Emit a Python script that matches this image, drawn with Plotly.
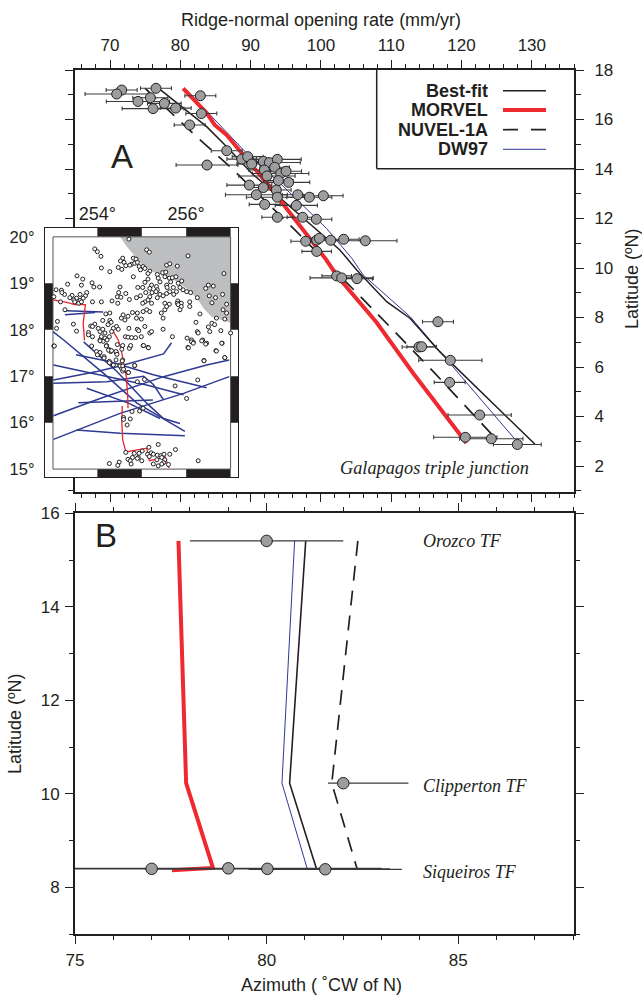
import plotly.graph_objects as go

W, H = 642, 998
INK = "#231f20"
GREY = "#9b9d9f"
RED = "#ee2a30"
BLUE = "#2e3a92"

# ---------- Panel A: observed opening rates ----------
a_rate = [71.66,70.95,76.54,73.98,75.74,77.73,76.12,79.34,82.85,82.99,81.33,86.6,83.8,88.73,89.58,91.81,92.66,93.8,90.15,91.95,93.42,94.28,95.04,92.33,93.95,95.41,89.82,91.81,93.66,90.82,93.8,96.7,98.35,100.35,92.0,96.5,93.8,97.4,99.35,97.83,99.4,99.78,101.39,103.24,106.32,99.4,102.24,102.95,105.13,116.65,113.95,114.33,118.41,118.31,122.58,120.54,124.24,127.94]
a_lat = [17.19,17.03,17.26,16.73,16.88,16.65,16.44,16.46,16.96,16.24,15.78,14.74,14.16,14.4,14.5,14.31,14.26,14.39,14.2,13.96,14.07,13.82,13.91,13.72,13.53,13.46,13.35,13.25,13.15,12.96,12.86,12.96,12.86,12.92,12.57,12.53,12.05,12.05,11.97,11.08,11.13,11.2,11.12,11.16,11.1,10.67,9.68,9.6,9.57,7.83,6.81,6.82,6.27,5.38,4.06,3.16,3.1,2.87]
a_err = [2.2,4.5,2.2,4.5,2.5,2.4,4.4,2.2,2.2,2.2,2.2,2.2,4.4,2.1,2.2,2.2,4.4,3.4,2.1,2.2,2.1,4.0,2.2,4.0,2.1,3.0,3.2,2.1,2.1,4.4,4.4,2.2,3.2,2.8,2.2,3.0,2.2,2.2,2.2,2.1,2.1,2.1,2.2,2.2,4.5,2.1,2.1,4.5,2.2,2.2,2.4,2.1,4.5,2.2,4.5,4.5,4.5,3.4]

# ---------- Panel A: model curves ----------
a_best_rate = [77.1,79.5,83.75,86.6,90.15,102.7,105.09,109.35,112.67,116.9,130.45]
a_best_lat = [17.22,16.68,15.71,14.9,13.83,10.73,9.92,8.64,7.97,6.62,2.88]
a_morvel_rate = [80.4,83.75,84.9,86.6,92.3,96.0,100.8,102.2,107.9,113.1,120.7]
a_morvel_lat = [17.26,16.26,15.78,15.37,13.43,12.07,10.32,9.72,7.81,5.76,2.93]
a_nuvel_rate = [75.0,79.0,82.55,87.3,96.3,108.2,116.0,125.05]
a_nuvel_lat = [17.26,16.18,15.24,14.03,11.54,8.1,5.81,3.05]
a_dw_rate = [80.8,85.65,89.45,94.2,100.8,104.4,106.0,112.7,127.6]
a_dw_lat = [17.22,15.78,14.63,13.42,11.6,10.39,9.72,8.03,3.08]

# ---------- Panel B ----------
b_az = [80.0,82.0,77.0,79.0,80.02,81.53]
b_lat = [15.41,10.23,8.4,8.41,8.4,8.39]
b_err_minus = [2.0,0.4,2.0,4.0,3.2,2.0]
b_err_plus = [2.0,1.7,2.0,4.0,3.2,2.0]
b_best_az = [81.02,80.6,81.3]
b_dw_az = [80.73,80.4,81.06]
b_nuvel_az = [82.38,81.7,82.36]
b_model_lat = [15.41,10.23,8.4]
b_morvel_az = [77.7,77.9,78.6,77.53]
b_morvel_lat = [15.41,10.23,8.42,8.37]

# ---------- Inset map ----------
land_lon = [254.51,254.66,254.85,255.0,255.19,255.41,255.6,255.79,256.01,256.24,256.39,256.57,256.8,257.0,257.0]
land_lat = [20.0,19.79,19.58,19.4,19.27,19.18,19.11,19.04,18.89,18.68,18.46,18.28,18.21,18.15,20.0]

quake_lon = [254.71,253.94,254.0,254.08,255.11,255.17,256.04,254.57,254.52,254.6,254.81,254.87,254.77,254.84,254.64,254.73,254.9,254.94,255.03,254.97,255.07,255.18,255.14,254.47,254.55,254.09,254.28,255.56,255.63,255.8,254.81,253.54,253.67,253.33,253.64,253.88,253.92,254.05,254.51,254.91,255.02,255.07,255.14,255.35,255.37,255.47,255.54,255.52,255.62,255.69,255.77,255.9,255.65,255.82,255.41,255.22,255.33,255.56,255.57,255.71,255.18,255.35,255.86,255.93,256.01,256.1,256.25,256.44,256.5,256.61,256.85,256.82,256.52,256.66,256.58,256.91,253.07,253.19,253.26,253.2,253.43,253.38,253.61,253.76,253.73,253.53,253.47,253.61,253.68,253.49,253.58,253.64,253.02,253.17,253.89,254.09,254.33,254.45,254.53,254.48,254.64,254.72,254.46,254.88,254.97,255.09,255.18,255.23,255.32,255.41,255.35,255.48,255.56,255.63,255.72,255.78,255.14,255.07,255.02,255.22,255.52,255.62,255.81,255.89,256.08,255.8,
253.27,253.1,253.08,253.46,253.53,253.85,253.94,253.89,253.8,253.8,254.02,254.12,254.28,254.31,254.24,254.19,254.28,254.58,254.54,254.62,254.69,254.79,254.9,254.88,254.99,255.07,254.71,254.9,254.93,254.43,254.47,254.36,254.32,254.06,254.12,254.17,254.09,254.17,254.06,254.13,254.22,254.27,253.89,253.98,254.04,254.15,254.21,254.27,254.3,254.43,254.57,254.73,254.63,254.69,254.77,254.86,254.99,255.18,255.22,255.48,255.69,255.03,255.14,256.04,256.02,256.12,256.16,256.25,256.27,256.37,256.46,256.53,256.58,256.64,256.5,256.78,256.81,256.67,256.87,256.4,256.22,255.48,255.44,255.52,255.56,255.11,255.03,255.18,255.82,255.89,255.86,256.08,256.31,256.83,256.91,256.68,256.87,257.0,253.02,254.57,254.51,254.54,254.57,254.69,254.84,254.27,254.36,
253.03,253.87,254.06,254.2,254.25,254.32,254.06,254.0,254.15,254.27,254.42,254.44,254.42,254.56,254.55,254.45,254.72,254.75,255.04,255.15,254.51,254.57,254.84,254.7,254.59,254.9,255.06,255.75,256.26,256.01,256.05,256.12,256.16,256.35,256.44,256.8,256.68,256.87,256.4,254.78,254.95,255.03,254.74,254.59,254.59,254.67,255.37,255.76,255.16,254.64,254.83,254.94,255.01,255.21,255.13,255.26,255.35,255.43,255.5,255.63,254.92,254.79,254.69,254.74,254.9,255.0,254.76,255.17,255.34,255.45,255.52,255.49,255.26,255.37,255.45,255.6,254.27,254.49,254.46,256.27]
quake_lat = [19.95,19.74,19.68,19.58,19.72,19.67,19.59,19.54,19.48,19.45,19.54,19.52,19.41,19.43,19.38,19.39,19.45,19.36,19.36,19.29,19.32,19.26,19.21,19.34,19.3,19.33,19.25,19.39,19.42,19.37,19.14,19.16,19.09,18.98,18.96,19.01,18.92,18.92,18.92,18.91,18.91,19.02,19.09,19.19,19.11,19.23,19.24,19.14,19.11,19.12,19.14,19.05,19.03,19.0,19.03,18.96,18.93,18.96,18.91,18.91,18.89,18.86,18.91,18.86,18.82,18.8,18.69,18.89,18.96,18.94,19.21,18.76,18.73,18.69,18.58,18.55,18.86,18.85,18.76,18.8,18.74,18.69,18.76,18.8,18.73,18.68,18.64,18.63,18.68,18.6,18.57,18.6,18.71,18.6,18.6,18.6,18.62,18.71,18.7,18.8,18.78,18.65,18.57,18.69,18.73,18.8,18.71,18.8,18.82,18.76,18.69,18.73,18.78,18.82,18.76,18.82,18.64,18.6,18.57,18.57,18.57,18.55,18.62,18.57,18.6,18.57,
18.43,18.18,18.03,18.12,17.97,18.08,18.12,18.07,17.94,17.89,18.03,18.2,18.2,18.16,18.11,18.34,18.36,18.32,18.25,18.21,18.29,18.37,18.36,18.25,18.23,18.07,18.03,18.01,17.98,18.07,18.01,18.03,17.96,17.96,18.01,17.93,17.85,17.82,17.78,17.75,17.78,17.85,17.85,17.53,17.48,17.42,17.66,17.57,17.53,17.5,17.66,17.62,17.85,17.84,17.83,17.83,17.85,17.93,17.96,18.01,17.85,17.66,17.62,17.62,17.82,17.78,17.73,17.96,17.93,17.78,17.71,17.96,18.14,18.11,18.06,17.98,17.71,17.55,17.4,17.34,18.16,18.25,18.36,18.43,18.5,18.43,18.39,18.39,18.54,18.5,18.43,18.5,18.34,18.43,18.36,18.25,18.23,17.93,17.65,17.35,17.24,17.17,17.11,17.08,17.23,17.32,17.24,
17.65,17.65,17.76,17.65,17.56,17.55,17.51,17.46,17.39,17.29,17.53,17.47,17.35,17.33,17.58,17.68,17.6,17.66,17.66,17.61,17.22,17.22,17.23,17.08,17.15,16.88,16.93,16.79,16.92,16.52,17.61,17.74,17.71,17.76,17.69,17.71,17.54,17.4,17.33,16.24,16.25,16.31,16.08,16.11,16.07,15.95,15.53,15.42,15.47,15.36,15.34,15.34,15.39,15.35,15.32,15.32,15.3,15.29,15.32,15.32,15.25,15.25,15.21,15.18,15.23,15.18,15.11,15.27,15.2,15.25,15.2,15.14,15.11,15.07,15.11,15.1,15.12,15.15,15.08,15.18]

ridge_lons = [
    [253.01,253.31,253.49,253.73,253.68,253.71],
    [254.36,254.47,254.53,254.57,254.6,254.65,254.68,254.69],
    [254.56,254.55,254.57,254.64,255.11,255.17,255.41,255.52,255.61],
]
ridge_lats = [
    [18.64,18.59,18.54,18.54,18.14,17.77],
    [17.96,17.78,17.6,17.4,17.28,16.99,16.63,16.31],
    [16.36,16.0,15.63,15.37,15.45,15.18,15.23,15.28,15.02],
]
fz_lons = [
    [253.29,254.13],[253.27,253.95],
    [253.0,253.24,254.14,254.89,255.97],
    [253.69,254.44,255.11,255.49,255.86],
    [253.52,254.29,255.26,256.46],
    [253.01,253.99,254.51,255.49,255.67],
    [253.01,253.91,255.11,255.94],
    [253.01,254.21,255.04,255.26,255.49],
    [253.01,254.06,255.49,256.46,256.97],
    [253.01,253.53,254.51,255.94,256.97],
    [253.53,254.51,255.97],
    [253.57,255.25],
    [253.76,254.7,255.41],
]
fz_lats = [
    [18.41,18.38],[18.32,18.37],
    [17.96,17.78,17.06,16.42,15.81],
    [17.74,17.1,16.42,16.09,15.98],
    [17.46,17.31,17.03,16.75],
    [16.92,17.1,17.22,17.48,17.72],
    [17.24,17.06,16.81,16.6],
    [16.85,16.88,17.0,16.82,16.49],
    [16.15,16.52,16.99,17.24,17.35],
    [15.64,15.84,16.2,16.63,16.99],
    [15.84,15.77,15.72],
    [16.43,16.49],
    [16.74,16.42,16.09],
]
map_lon_ticks = [254, 256]
map_lon_labels = ["254°", "256°"]
map_lat_ticks = [15, 16, 17, 18, 19, 20]
map_lat_labels = ["15°", "16°", "17°", "18°", "19°", "20°"]
legend_names = ["Best-fit", "MORVEL", "NUVEL-1A", "DW97"]

def dx(px):
    return px / W

def dy(py):
    return 1 - py / H

fig = go.Figure()

def curve(x, y, color, width, xa, ya, dash=None):
    fig.add_trace(go.Scatter(x=x, y=y, mode="lines", xaxis=xa, yaxis=ya, hoverinfo="skip",
                             line=dict(color=color, width=width, dash=dash)))

DASH = "15px,10px"
# panel A
curve(a_dw_rate, a_dw_lat, BLUE, 1, "x", "y")
curve(a_best_rate, a_best_lat, INK, 1.5, "x", "y")
curve(a_nuvel_rate, a_nuvel_lat, INK, 1.7, "x", "y", DASH)
curve(a_morvel_rate, a_morvel_lat, RED, 4, "x", "y")
fig.add_trace(go.Scatter(x=a_rate, y=a_lat, mode="markers", xaxis="x", yaxis="y", hoverinfo="skip",
                         marker=dict(size=10, color=GREY, line=dict(color=INK, width=1)),
                         error_x=dict(type="data", array=a_err, color="#3a3a3a", thickness=1.1, width=2)))
# panel B
curve(b_dw_az, b_model_lat, BLUE, 1, "x2", "y2")
curve(b_best_az, b_model_lat, INK, 1.6, "x2", "y2")
curve(b_nuvel_az, b_model_lat, INK, 1.7, "x2", "y2", DASH)
curve(b_morvel_az, b_morvel_lat, RED, 4, "x2", "y2")
fig.add_trace(go.Scatter(x=b_az, y=b_lat, mode="markers", xaxis="x2", yaxis="y2", hoverinfo="skip",
                         marker=dict(size=11.5, color=GREY, line=dict(color=INK, width=1)),
                         error_x=dict(type="data", symmetric=False, array=b_err_plus, arrayminus=b_err_minus,
                                      color="#3a3a3a", thickness=1.2, width=0)))

# inset: checkered frame, drawn from the map's degree grid
LON0, LON1, LAT0, LAT1 = 253, 257, 15, 20
OLON0, OLON1, OLAT0, OLAT1 = 252.82, 257.167, 14.83, 20.19
chk_x, chk_y = [], []
for a, b in [(254, 255), (256, 257)]:
    for c, d in [(OLAT0, LAT0), (LAT1, OLAT1)]:
        chk_x += [a, b, b, a, a, None]
        chk_y += [c, c, d, d, c, None]
for c, d in [(16, 17), (18, 19)]:
    for a, b in [(OLON0, LON0), (LON1, OLON1)]:
        chk_x += [a, b, b, a, a, None]
        chk_y += [c, c, d, d, c, None]
fig.add_trace(go.Scatter(x=land_lon + [land_lon[0]], y=land_lat + [land_lat[0]], mode="lines", fill="toself",
                         fillcolor="#bcbec0", line=dict(width=0), xaxis="x3", yaxis="y3", hoverinfo="skip"))
fig.add_trace(go.Scatter(x=chk_x, y=chk_y, mode="lines", fill="toself", fillcolor=INK,
                         line=dict(width=0, color=INK), xaxis="x3", yaxis="y3", hoverinfo="skip"))
fig.add_trace(go.Scatter(x=[LON0, LON1, LON1, LON0, LON0], y=[LAT0, LAT0, LAT1, LAT1, LAT0], mode="lines",
                         line=dict(color="#555", width=1), xaxis="x3", yaxis="y3", hoverinfo="skip"))
for lo, la in zip(fz_lons, fz_lats):
    curve(lo, la, BLUE, 1.5, "x3", "y3")
for lo, la in zip(ridge_lons, ridge_lats):
    curve(lo, la, "#e8262c", 1.3, "x3", "y3")
fig.add_trace(go.Scatter(x=quake_lon, y=quake_lat, mode="markers", xaxis="x3", yaxis="y3", hoverinfo="skip",
                         marker=dict(size=4, color="white", line=dict(color=INK, width=1))))

SANS = "Liberation Sans"
SERIF = "Liberation Serif"
tickf = dict(family=SANS, size=17, color=INK)
titlef = dict(family=SANS, size=18, color=INK)
common = dict(showline=True, linecolor=INK, linewidth=2, showgrid=False, zeroline=False, automargin=False,
              ticks="outside", tickcolor=INK, tickwidth=1.2, tickfont=tickf, mirror="ticks")

fig.update_layout(
    width=W, height=H, autosize=False, showlegend=False,
    margin=dict(l=0, r=0, t=0, b=0), paper_bgcolor="white", plot_bgcolor="white",
    xaxis=dict(domain=[dx(75), dx(574)], range=[65.02, 136.0], anchor="y", side="top", ticklabelstandoff=2,
               tick0=70, dtick=10, ticklen=8, minor=dict(dtick=2, tick0=70, ticklen=4, ticks="outside", tickcolor=INK, tickwidth=1), **common),
    yaxis=dict(domain=[dy(491.5), dy(70)], range=[0.97, 18], anchor="x", side="right", ticklabelstandoff=7,
               tick0=2, dtick=2, ticklen=8, minor=dict(dtick=1, tick0=2, ticklen=5, ticks="outside", tickcolor=INK, tickwidth=1), **common),
    xaxis2=dict(domain=[dx(75), dx(574)], range=[75, 88.02], anchor="y2", side="bottom", ticklabelstandoff=1,
                tick0=75, dtick=5, ticklen=8, minor=dict(dtick=1, tick0=75, ticklen=4, ticks="outside", tickcolor=INK, tickwidth=1), **common),
    yaxis2=dict(domain=[dy(934.3), dy(513.3)], range=[7, 16], anchor="x2", side="left", ticklabelstandoff=2,
                tick0=8, dtick=2, ticklen=8, minor=dict(dtick=1, tick0=8, ticklen=4, ticks="outside", tickcolor=INK, tickwidth=1), **common),
    xaxis3=dict(domain=[dx(45), dx(238)], range=[OLON0, OLON1], anchor="y3", side="top", automargin=False,
                tickmode="array", tickvals=map_lon_ticks, ticktext=map_lon_labels, ticks="", showgrid=False,
                zeroline=False, showline=True, linecolor=INK, linewidth=1.3, mirror=True,
                tickfont=dict(family=SANS, size=18, color=INK)),
    yaxis3=dict(domain=[dy(477), dy(228)], range=[OLAT0, OLAT1], anchor="x3", side="left", automargin=False,
                ticklabelstandoff=6,
                tickmode="array", tickvals=map_lat_ticks, ticktext=map_lat_labels, ticks="", showgrid=False,
                zeroline=False, showline=True, linecolor=INK, linewidth=1.3, mirror=True,
                tickfont=dict(family=SANS, size=16.5, color=INK)),
)

# Legend box and sample lines
legend_y = [90.7, 110, 129.7, 149.3]
legend_style = [(INK, 1.6, None), (RED, 4, None), (INK, 1.7, "15px,13px"), (BLUE, 1, None)]
shapes = [
    dict(type="line", xref="paper", yref="paper", x0=dx(376.7), x1=dx(376.7), y0=dy(70), y1=dy(168.7), line=dict(color=INK, width=1.5)),
    dict(type="line", xref="paper", yref="paper", x0=dx(376.7), x1=dx(574), y0=dy(168.7), y1=dy(168.7), line=dict(color=INK, width=1.5)),
]
anns = []
for name, py, (c, w, d) in zip(legend_names, legend_y, legend_style):
    shapes.append(dict(type="line", xref="paper", yref="paper", x0=dx(503), x1=dx(546), y0=dy(py), y1=dy(py),
                       line=dict(color=c, width=w, dash=d)))
    anns.append(dict(xref="paper", yref="paper", x=dx(490), y=dy(py), text=f"<b>{name}</b>", showarrow=False,
                     xanchor="right", yanchor="middle", font=dict(family=SANS, size=18, color=INK)))
center = dict(xanchor="center", yanchor="middle", showarrow=False)
anns += [
    dict(xref="paper", yref="paper", x=dx(321), y=dy(20), text="Ridge-normal opening rate (mm/yr)", font=titlef, **center),
    dict(xref="paper", yref="paper", x=dx(322), y=dy(985), text="Azimuth ( ˚CW of N)", font=titlef, **center),
    dict(xref="paper", yref="paper", x=dx(632), y=dy(279), text="Latitude (ºN)", textangle=-90, font=titlef, **center),
    dict(xref="paper", yref="paper", x=dx(15), y=dy(724), text="Latitude (ºN)", textangle=-90, font=titlef, **center),
    dict(xref="x", yref="y", x=70 + (121.5 - 110) / 7.03, y=18 - (157 - 70) / 24.75, text="A", showarrow=False, font=dict(family=SANS, size=33, color=INK)),
    dict(xref="x2", yref="y2", x=75 + (106 - 75) / 38.33, y=16 - (535 - 513.3) / 46.78, text="B", showarrow=False, font=dict(family=SANS, size=33, color=INK)),
    dict(xref="x", yref="y", x=116.2, y=1.92, text="<i>Galapagos triple junction</i>", showarrow=False, font=dict(family=SERIF, size=18.3, color=INK)),
    dict(xref="x2", yref="y2", x=84.03, y=15.41, xanchor="left", text="<i>Orozco TF</i>", showarrow=False, font=dict(family=SERIF, size=18, color=INK)),
    dict(xref="x2", yref="y2", x=84.03, y=10.17, xanchor="left", text="<i>Clipperton TF</i>", showarrow=False, font=dict(family=SERIF, size=18, color=INK)),
    dict(xref="x2", yref="y2", x=84.03, y=8.34, xanchor="left", text="<i>Siqueiros TF</i>", showarrow=False, font=dict(family=SERIF, size=18, color=INK)),
]
fig.update_layout(shapes=shapes, annotations=anns)

fig.write_html("out.html", config={"displayModeBar": False}, post_script="document.body.style.margin='0';")
